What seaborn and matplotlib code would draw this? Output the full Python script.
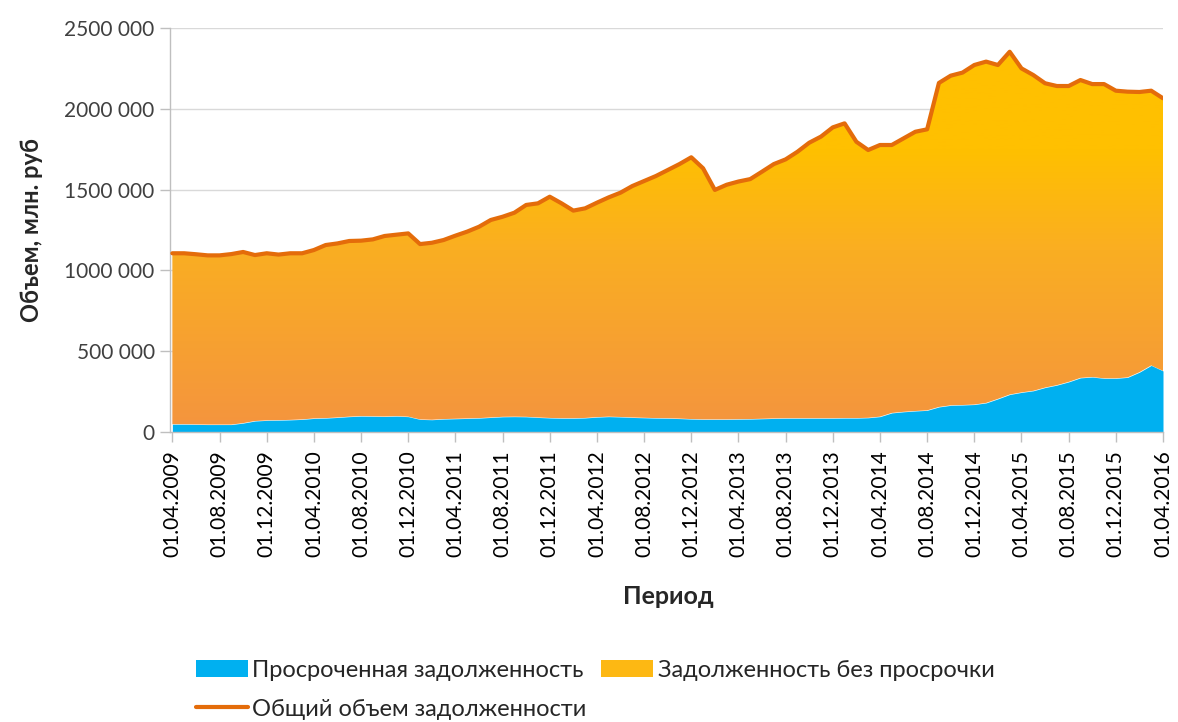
import numpy as np
import matplotlib
matplotlib.use("Agg")
import matplotlib.pyplot as plt
import seaborn as sns
from matplotlib.colors import LinearSegmentedColormap
from matplotlib.patches import Patch
from matplotlib.lines import Line2D

# monthly values, thousand of mln rub, 01.04.2009 .. 01.04.2016
total_k = [1106, 1106, 1100, 1093, 1093, 1101, 1114, 1095, 1106, 1098,
           1106, 1106, 1126, 1157, 1167, 1182, 1184, 1192, 1213, 1221,
           1229, 1163, 1171, 1188, 1215, 1240, 1270, 1312, 1332, 1357,
           1405, 1415, 1456, 1415, 1370, 1384, 1419, 1452, 1481, 1522,
           1553, 1584, 1621, 1658, 1700, 1632, 1498, 1530, 1550, 1565,
           1611, 1658, 1687, 1734, 1790, 1828, 1885, 1910, 1796, 1745,
           1776, 1776, 1817, 1858, 1873, 2160, 2205, 2224, 2271, 2292,
           2271, 2353, 2250, 2209, 2158, 2141, 2141, 2178, 2153, 2153,
           2112, 2106, 2104, 2112, 2065]
overdue_k = [48, 48, 47, 46, 46, 46, 55, 68, 72, 73,
             75, 78, 84, 86, 90, 95, 98, 97, 96, 98,
             95, 78, 76, 80, 82, 84, 86, 90, 94, 95,
             94, 90, 87, 85, 85, 87, 92, 95, 93, 90,
             88, 86, 85, 83, 80, 78, 78, 78, 79, 80,
             82, 84, 85, 85, 85, 85, 85, 86, 86, 88,
             95, 118, 125, 130, 134, 155, 165, 167, 170, 180,
             205, 232, 245, 255, 275, 290, 310, 335, 340, 332,
             332, 338, 370, 412, 378]
tick_labels = ["01.04.2009", "01.08.2009", "01.12.2009", "01.04.2010",
               "01.08.2010", "01.12.2010", "01.04.2011", "01.08.2011",
               "01.12.2011", "01.04.2012", "01.08.2012", "01.12.2012",
               "01.04.2013", "01.08.2013", "01.12.2013", "01.04.2014",
               "01.08.2014", "01.12.2014", "01.04.2015", "01.08.2015",
               "01.12.2015", "01.04.2016"]
y_ticks = [0, 500000, 1000000, 1500000, 2000000, 2500000]
y_tick_labels = ["0", "500 000", "1000 000", "1500 000", "2000 000", "2500 000"]

months = np.arange(len(total_k))
total = np.array(total_k) * 1000
overdue = np.array(overdue_k) * 1000

sns.set_theme(style="white")
plt.rcParams['font.family'] = ['Lato', 'DejaVu Sans']

fig = plt.figure(figsize=(11.78, 7.22), dpi=100)
ax = fig.add_axes([170 / 1178, 1 - 432 / 722, (1163 - 170) / 1178, (432 - 28) / 722])

for v in y_ticks[1:]:
    ax.axhline(v, color="#D9D9D9", lw=1, zorder=0)

ax.fill_between(months, 0, overdue, color="#00B0F0", lw=0, zorder=2)

# gradient fill for the non-overdue part
poly = ax.fill_between(months, overdue, total, facecolor="none", lw=0)
cmap = LinearSegmentedColormap.from_list(
    "grad", [(0, "#F4943F"), (0.45, "#FAAE22"), (0.7, "#FFC000"), (1, "#FFC000")])
grad = np.linspace(0, 1, 256).reshape(-1, 1)
im = ax.imshow(grad, extent=[months[0], months[-1], 0, 2500000], origin="lower",
               aspect="auto", cmap=cmap, zorder=1)
im.set_clip_path(poly.get_paths()[0], transform=ax.transData)

sns.lineplot(x=months, y=total, ax=ax, color="#E46C0A", lw=3, zorder=3)

ax.set_xlim(-0.2, months[-1])
ax.set_ylim(0, 2500000)
ax.set_yticks(y_ticks)
ax.set_yticklabels(y_tick_labels, fontsize=15, color="#404040")
ax.set_xticks(np.arange(0, len(months), 4))
ax.set_xticklabels(tick_labels, rotation=90, fontsize=15, color="black")
ax.tick_params(axis="both", which="both", direction="out", length=7,
               color="#BFBFBF", width=1, bottom=True, left=True)
ax.tick_params(axis="x", pad=6)
ax.tick_params(axis="y", pad=4)

for s in ["top", "right"]:
    ax.spines[s].set_visible(False)
for s in ["left", "bottom"]:
    ax.spines[s].set_color("#BFBFBF")
    ax.spines[s].set_linewidth(1)

ax.set_ylabel("Объем, млн. руб", fontsize=17, fontweight="bold")
ax.yaxis.set_label_coords(-0.128, 0.5)
ax.set_xlabel("")
fig.text(668 / 1178, 1 - 596 / 722, "Период", ha="center", va="center",
         fontsize=18, fontweight="bold")

handles = [Patch(facecolor="#00B0F0", edgecolor="none"),
           Line2D([0], [0], color="#E46C0A", lw=3),
           Patch(facecolor="#FDB813", edgecolor="none")]
labels = ["Просроченная задолженность", "Общий объем задолженности",
          "Задолженность без просрочки"]
fig.legend(handles, labels, loc="upper left", bbox_to_anchor=(184 / 1178, 1 - 648 / 722),
           ncol=2, frameon=False, handlelength=2.2, handleheight=0.7,
           handletextpad=0.2, columnspacing=0.6, labelspacing=0.75,
           borderpad=0, prop=dict(family=['Lato', 'DejaVu Sans'], size=17))

fig.savefig("out.png", dpi=100)
